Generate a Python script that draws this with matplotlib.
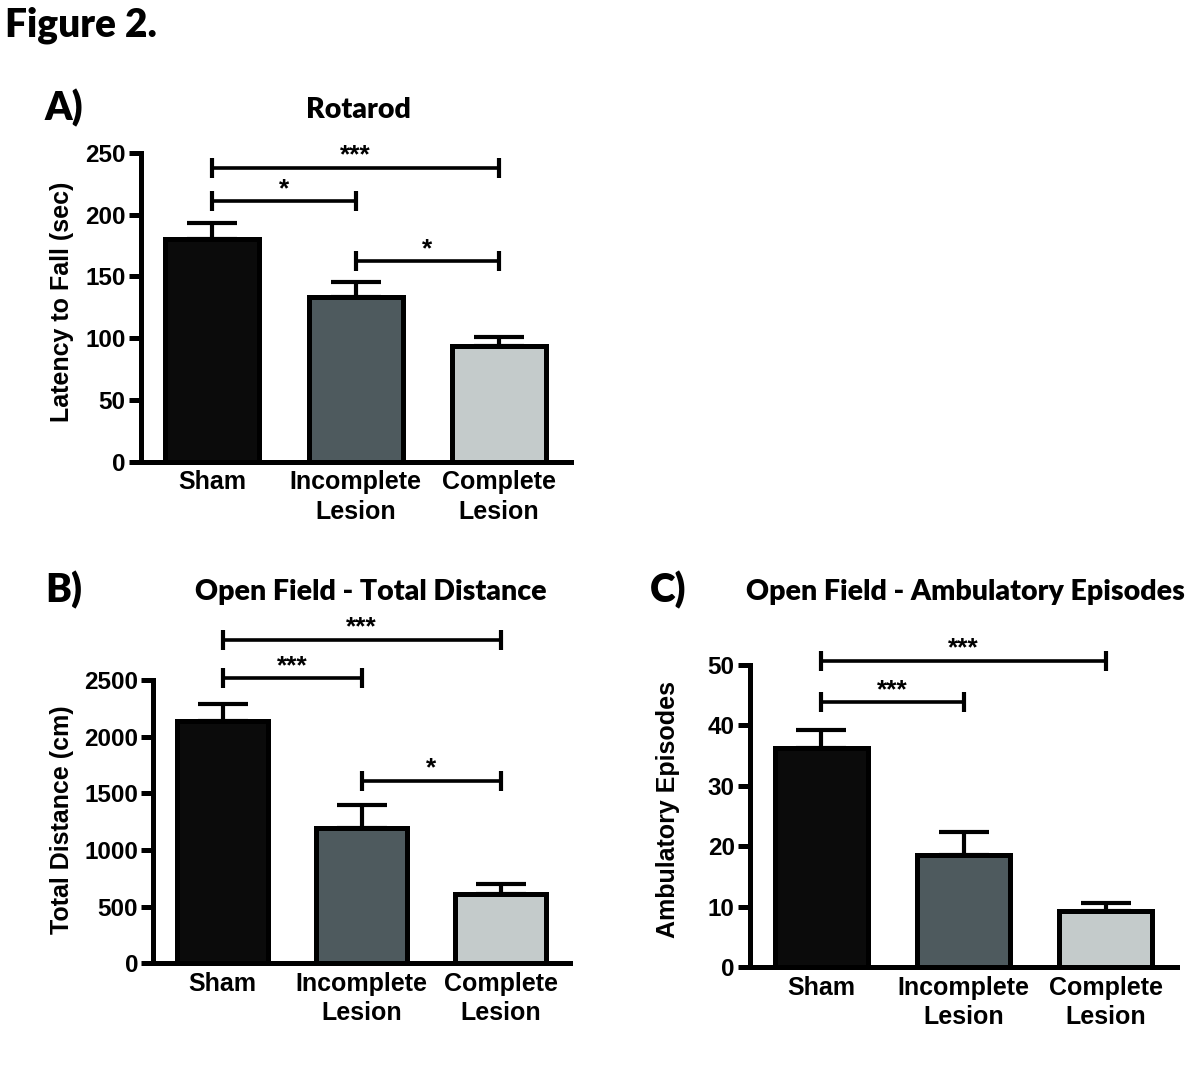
# Figure 2 - behavioural tests (rotarod + open field), Prism-style bar charts

import numpy as np
import matplotlib
matplotlib.use('Agg')
import matplotlib.pyplot as plt

#------------------------ DATA --------------------------#
groups = ['Sham', 'Incomplete\nLesion', 'Complete\nLesion']

rotarod_mean = [180, 133, 94]
rotarod_sem = [13, 12, 6.5]

distance_mean = [2135, 1190, 615]
distance_sem = [155, 205, 88]

episodes_mean = [36.3, 18.5, 9.3]
episodes_sem = [2.9, 3.9, 1.4]

# significance brackets: (group from, group to, height, label)
rotarod_sig = [(0, 2, 238, '***'), (0, 1, 211, '*'), (1, 2, 162, '*')]
distance_sig = [(0, 2, 2855, '***'), (0, 1, 2515, '***'), (1, 2, 1612, '*')]
episodes_sig = [(0, 2, 50.7, '***'), (0, 1, 43.9, '***')]
#------------------------ DATA --------------------------#

bar_colors = ['#0b0b0b', '#4e5a5e', '#c4cbcb']
W, H = 1200, 1069

plt.rcParams['font.family'] = ['Liberation Sans', 'DejaVu Sans']
plt.rcParams['font.weight'] = 'bold'

fig = plt.figure(figsize=(W / 100, H / 100), dpi=100)


def px_box(left, right, bottom, top):
    # pixel box -> figure fraction
    return [left / W, 1 - bottom / H, (right - left) / W, (bottom - top) / H]


def bar_panel(ax, means, sems, sig, ymax, ytop, yticks):
    x = np.arange(len(means))
    ax.bar(x, means, 0.655, color=bar_colors, edgecolor='black', linewidth=3.6, zorder=3)
    ax.errorbar(x, means, yerr=[np.zeros(len(sems)), sems], fmt='none', ecolor='black',
                elinewidth=3.0, capsize=18, capthick=3.0, zorder=2)

    # significance brackets
    for a, b, y, lab in sig:
        ax.plot([a, b], [y, y], color='black', lw=2.6, marker='|', markersize=14,
                markeredgewidth=3.0, solid_capstyle='butt', clip_on=False, zorder=4)
        ax.text((a + b) / 2, y, lab, ha='center', va='bottom', fontsize=19,
                fontweight='bold')

    ax.set_xlim(-0.5, 2.5)
    ax.set_ylim(0, ymax)
    ax.set_yticks(yticks)
    ax.set_xticks(x)
    ax.set_xticklabels(groups, fontsize=18, linespacing=1.3)

    for s in ['top', 'right']:
        ax.spines[s].set_visible(False)
    for s in ['left', 'bottom']:
        ax.spines[s].set_linewidth(3.6)
    ax.spines['left'].set_bounds(0, ytop)
    ax.spines['bottom'].set_zorder(5)

    ax.tick_params(axis='y', length=9, width=3.6, pad=2, labelsize=17.5)
    ax.tick_params(axis='x', length=0, pad=6)
    ax.patch.set_visible(False)


# A) Rotarod
axA = fig.add_axes(px_box(140.7, 570.7, 461.7, 152.7))
bar_panel(axA, rotarod_mean, rotarod_sem, rotarod_sig, 250, 250, [0, 50, 100, 150, 200, 250])

# B) Open field - total distance
axB = fig.add_axes(px_box(153.3, 570, 963.3, 623.3))
bar_panel(axB, distance_mean, distance_sem, distance_sig, 3000, 2500, [0, 500, 1000, 1500, 2000, 2500])

# C) Open field - ambulatory episodes
axC = fig.add_axes(px_box(750, 1177, 967.3, 646.9))
bar_panel(axC, episodes_mean, episodes_sem, episodes_sig, 53, 50, [0, 10, 20, 30, 40, 50])

# y labels
fig.text(62 / W, 1 - 302 / H, 'Latency to Fall (sec)', rotation=90, ha='center', va='center', fontsize=18)
fig.text(62 / W, 1 - 820 / H, 'Total Distance (cm)', rotation=90, ha='center', va='center', fontsize=18)
fig.text(668 / W, 1 - 810 / H, 'Ambulatory Episodes', rotation=90, ha='center', va='center', fontsize=18)

# titles and panel letters (Calibri-like)
title_font = ['Lato', 'Open Sans', 'DejaVu Sans']
fig.text(358 / W, 1 - 110 / H, 'Rotarod', ha='center', va='center', fontsize=20.5, family=title_font, fontweight='heavy')
fig.text(371 / W, 1 - 592 / H, 'Open Field - Total Distance', ha='center', va='center', fontsize=20.5, family=title_font, fontweight='heavy')
fig.text(965 / W, 1 - 592 / H, 'Open Field - Ambulatory Episodes', ha='center', va='center', fontsize=20.5, family=title_font, fontweight='heavy')

fig.text(45 / W, 1 - 108 / H, 'A)', ha='left', va='center', fontsize=28, family=title_font, fontweight='heavy')
fig.text(45 / W, 1 - 590 / H, 'B)', ha='left', va='center', fontsize=28, family=title_font, fontweight='heavy')
fig.text(650 / W, 1 - 590 / H, 'C)', ha='left', va='center', fontsize=28, family=title_font, fontweight='heavy')

fig.text(5 / W, 1 - 25 / H, 'Figure 2.', ha='left', va='center', fontsize=28, family=title_font, fontweight='heavy')

plt.savefig('out.png', dpi=100)
